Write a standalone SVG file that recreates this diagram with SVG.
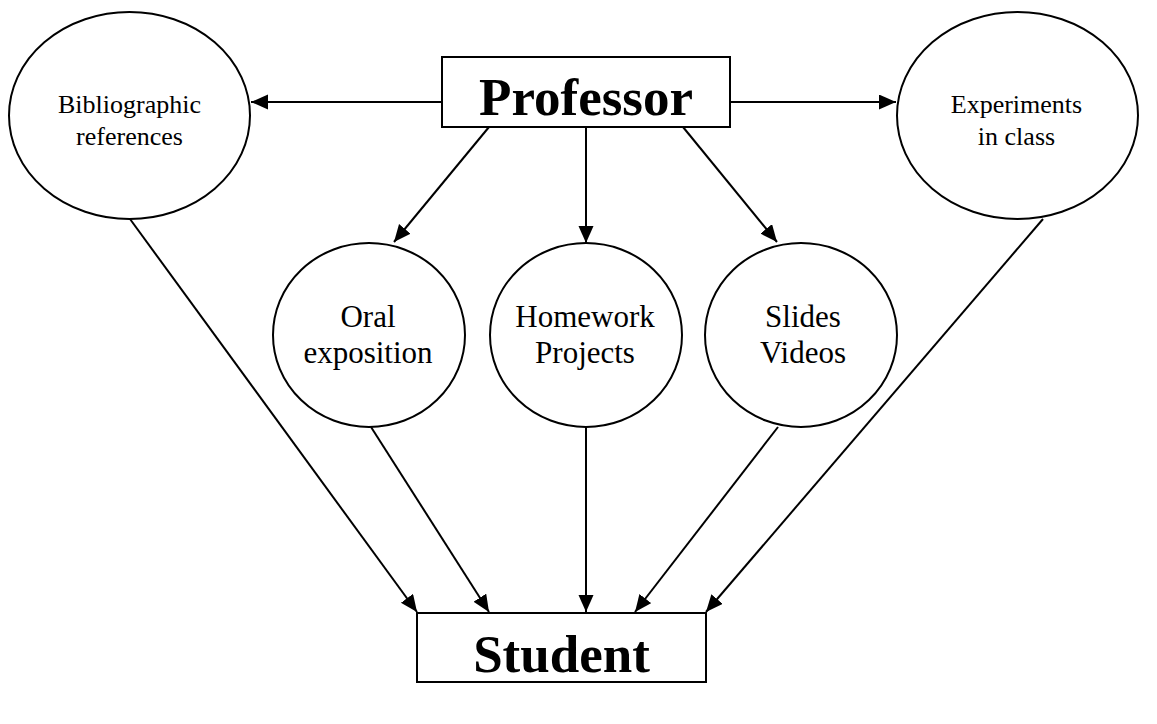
<svg xmlns="http://www.w3.org/2000/svg" width="1157" height="724" viewBox="0 0 1157 724">
  <style>
    .shape { fill: #ffffff; stroke: #000000; stroke-width: 2; }
    .title { font-family: "Liberation Serif", "Times New Roman", serif; font-weight: bold; font-size: 53px; fill: #000000; text-anchor: middle; }
    .big { font-family: "Liberation Serif", "Times New Roman", serif; font-size: 31px; fill: #000000; text-anchor: middle; }
    .small { font-family: "Liberation Serif", "Times New Roman", serif; font-size: 26px; fill: #000000; text-anchor: middle; }
    .edge { stroke: #000000; stroke-width: 2; fill: none; marker-end: url(#arrow); }
  </style>
  <defs>
    <marker id="arrow" markerUnits="userSpaceOnUse" markerWidth="18" markerHeight="16" refX="17" refY="7.5" orient="auto">
      <path d="M0,0 L17,7.5 L0,15 Z" fill="#000000"/>
    </marker>
  </defs>
  <rect width="1157" height="724" fill="#ffffff"/>

  <g id="connectors">
    <line class="edge" x1="442" y1="102" x2="251" y2="102"/>
    <line class="edge" x1="730" y1="102" x2="896" y2="102"/>
    <line class="edge" x1="489" y1="127" x2="394" y2="242"/>
    <line class="edge" x1="586" y1="127" x2="586" y2="243"/>
    <line class="edge" x1="683" y1="127" x2="777" y2="242"/>
    <line class="edge" x1="130" y1="219" x2="417" y2="612"/>
    <line class="edge" x1="371" y1="427" x2="489" y2="612"/>
    <line class="edge" x1="586" y1="427" x2="586" y2="612"/>
    <line class="edge" x1="778" y1="427" x2="635" y2="612"/>
    <line class="edge" x1="1043" y1="219" x2="706" y2="612"/>
  </g>

  <g id="professor">
    <rect class="shape" x="442" y="57" width="288" height="70"/>
    <text class="title" x="586" y="115">Professor</text>
  </g>

  <g id="student">
    <rect class="shape" x="417" y="613" width="289" height="69"/>
    <text class="title" x="561.5" y="672">Student</text>
  </g>

  <g id="bibliographic">
    <ellipse class="shape" cx="129.5" cy="115.5" rx="120.5" ry="103.5"/>
    <text class="small" x="129.5" y="113">Bibliographic</text>
    <text class="small" x="129.5" y="145">references</text>
  </g>

  <g id="experiments">
    <ellipse class="shape" cx="1017.5" cy="115.5" rx="120.5" ry="103.5"/>
    <text class="small" x="1016.5" y="113">Experiments</text>
    <text class="small" x="1016.5" y="145">in class</text>
  </g>

  <g id="oral">
    <ellipse class="shape" cx="369" cy="335" rx="96" ry="92"/>
    <text class="big" x="368" y="327">Oral</text>
    <text class="big" x="368" y="363">exposition</text>
  </g>

  <g id="homework">
    <ellipse class="shape" cx="586" cy="335" rx="96" ry="92"/>
    <text class="big" x="585" y="327">Homework</text>
    <text class="big" x="585" y="363">Projects</text>
  </g>

  <g id="slides">
    <ellipse class="shape" cx="801" cy="335" rx="96" ry="92"/>
    <text class="big" x="803" y="327">Slides</text>
    <text class="big" x="803" y="363">Videos</text>
  </g>
</svg>
